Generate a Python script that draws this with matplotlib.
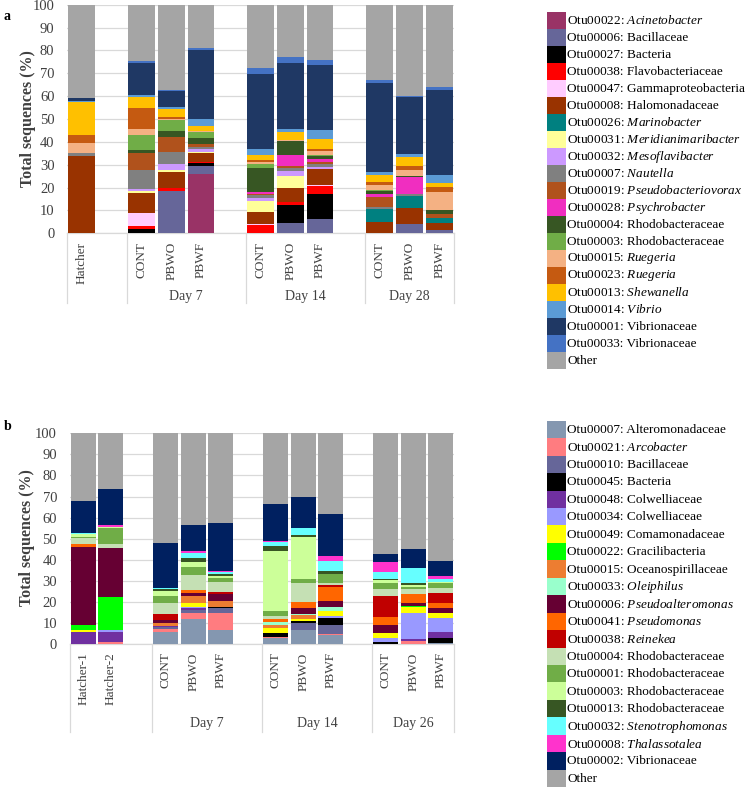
import numpy as np
import matplotlib
matplotlib.use('Agg')
import matplotlib.pyplot as plt
import matplotlib.transforms as mtransforms
from matplotlib.patches import Rectangle

plt.rcParams['font.family'] = ['Liberation Serif', 'DejaVu Serif']
plt.rcParams['mathtext.fontset'] = 'custom'
plt.rcParams['mathtext.rm'] = 'Liberation Serif'
plt.rcParams['mathtext.it'] = 'Liberation Serif:italic'

# ---------------- panel a ----------------
a_groups = ["", "Day 7", "Day 14", "Day 28"]
a_samples = [["Hatcher"], ["CONT", "PBWO", "PBWF"], ["CONT", "PBWO", "PBWF"], ["CONT", "PBWO", "PBWF"]]
a_otus = ["Otu00022", "Otu00006", "Otu00027", "Otu00038", "Otu00047", "Otu00008", "Otu00026",
          "Otu00031", "Otu00032", "Otu00007", "Otu00019", "Otu00028", "Otu00004", "Otu00003",
          "Otu00015", "Otu00023", "Otu00013", "Otu00014", "Otu00001", "Otu00033", ""]
a_taxa = ["Acinetobacter", "Bacillaceae", "Bacteria", "Flavobacteriaceae", "Gammaproteobacteria",
          "Halomonadaceae", "Marinobacter", "Meridianimaribacter", "Mesoflavibacter", "Nautella",
          "Pseudobacteriovorax", "Psychrobacter", "Rhodobacteraceae", "Rhodobacteraceae", "Ruegeria",
          "Ruegeria", "Shewanella", "Vibrio", "Vibrionaceae", "Vibrionaceae", "Other"]
a_italic = [1, 0, 0, 0, 0, 0, 1, 1, 1, 1, 1, 1, 0, 0, 1, 1, 1, 1, 0, 0, 0]
a_colors = ["#993366", "#666699", "#000000", "#FF0000", "#FFCCFF", "#993300", "#008080",
            "#FFFF99", "#CC99FF", "#808080", "#B0521C", "#F02EC0", "#375623", "#70AD47",
            "#F4B183", "#C55A11", "#FFC000", "#5B9BD5", "#1F3864", "#4472C4", "#A5A5A5"]
# rows = taxa, columns = Hatcher, CONT7, PBWO7, PBWF7, CONT14, PBWO14, PBWF14, CONT28, PBWO28, PBWF28
a_values = [
    [0, 0, 0, 25.8, 0, 0, 0, 0, 0, 0],
    [0, 0, 18.7, 3.8, 0, 4.4, 6.3, 0, 4.1, 1.5],
    [0, 2, 0, 1, 0, 8, 10.9, 0, 0, 0],
    [0, 1.2, 1, 0.7, 3.5, 1.3, 3.5, 0, 0, 0],
    [0, 5.5, 0, 0, 0.5, 0, 0.4, 0, 0, 0],
    [34, 9, 7, 3.7, 5.5, 6, 7, 5, 6.8, 2.9],
    [0, 0, 0, 0, 0, 0, 0, 5.5, 5.4, 2.2],
    [0, 0.8, 1, 0.6, 4.5, 5.4, 0, 0, 0, 0],
    [0, 1, 2.6, 1.1, 1.5, 2, 1, 0, 0, 0],
    [1, 8, 5.1, 1.2, 1.2, 1.5, 1, 1.2, 0.9, 0],
    [0, 7.5, 6.7, 1, 0.5, 0.7, 1.2, 4.3, 0, 1.7],
    [0, 0, 0, 0, 0.7, 4.8, 1.2, 1.2, 7.3, 0],
    [0, 1.5, 2.8, 2.9, 10.8, 6.1, 1.1, 1.2, 0.6, 1.8],
    [0, 6.5, 4.7, 2.4, 1.5, 0.3, 0.6, 0.6, 0, 0],
    [4.5, 2.5, 0.6, 0.7, 0.9, 0.5, 2, 2, 2.6, 8.1],
    [3.5, 9.5, 0.8, 0, 0.9, 0, 0.8, 1.6, 1.9, 1.9],
    [14.5, 4.5, 3.2, 2, 2.3, 3.5, 4.2, 2.9, 3.9, 1.8],
    [0.5, 1, 0.9, 3, 2.6, 1.2, 4.2, 1.2, 1.2, 3.6],
    [1, 14, 7.3, 30.3, 33, 28.9, 28.4, 38.9, 25.1, 37.2],
    [0, 1, 0.5, 0.8, 2.6, 2.6, 1.8, 1.4, 0.4, 1.2],
    [41, 24.5, 37.1, 19, 27.5, 22.8, 24.4, 33, 39.8, 36.1],
]

# ---------------- panel b ----------------
b_groups = ["", "Day 7", "Day 14", "Day 26"]
b_samples = [["Hatcher-1", "Hatcher-2"], ["CONT", "PBWO", "PBWF"], ["CONT", "PBWO", "PBWF"], ["CONT", "PBWO", "PBWF"]]
b_otus = ["Otu00007", "Otu00021", "Otu00010", "Otu00045", "Otu00048", "Otu00034", "Otu00049",
          "Otu00022", "Otu00015", "Otu00033", "Otu00006", "Otu00041", "Otu00038", "Otu00004",
          "Otu00001", "Otu00003", "Otu00013", "Otu00032", "Otu00008", "Otu00002", ""]
b_taxa = ["Alteromonadaceae", "Arcobacter", "Bacillaceae", "Bacteria", "Colwelliaceae", "Colwelliaceae",
          "Comamonadaceae", "Gracilibacteria", "Oceanospirillaceae", "Oleiphilus", "Pseudoalteromonas",
          "Pseudomonas", "Reinekea", "Rhodobacteraceae", "Rhodobacteraceae", "Rhodobacteraceae",
          "Rhodobacteraceae", "Stenotrophomonas", "Thalassotalea", "Vibrionaceae", "Other"]
b_italic = [0, 1, 0, 0, 0, 0, 0, 0, 0, 1, 1, 1, 1, 0, 0, 0, 0, 1, 1, 0, 0]
b_colors = ["#8497B0", "#FF7C80", "#666699", "#000000", "#7030A0", "#9999FF", "#FFFF00",
            "#00FF00", "#ED7D31", "#99FFCC", "#660033", "#FF6600", "#C00000", "#C5E0B4",
            "#70AD47", "#CCFF99", "#375623", "#66FFFF", "#FF33CC", "#002060", "#A5A5A5"]
# rows = taxa, columns = H1, H2, CONT7, PBWO7, PBWF7, CONT14, PBWO14, PBWF14, CONT26, PBWO26, PBWF26
b_values = [
    [0, 0, 5.5, 11.7, 6.6, 2.7, 6.6, 4.3, 0, 0, 0.6],
    [0, 0.8, 1.6, 2.9, 8, 0.8, 0, 0.4, 0, 1.6, 0],
    [0, 0, 0.8, 1.5, 2.3, 0, 3.2, 4.3, 0, 0, 0],
    [0, 0, 0, 0, 0.8, 1.6, 1, 3.2, 1.1, 0, 2.1],
    [5.8, 4.7, 0.6, 0.8, 0, 0, 0, 0, 0, 0.6, 3.2],
    [0, 1.1, 0, 0.8, 0, 0, 0, 1.1, 1.6, 12.4, 6.6],
    [0.8, 0, 0, 1.6, 0, 2.3, 0.9, 2.5, 2.7, 2.8, 2.1],
    [2.4, 15.6, 0, 0, 0, 0, 0, 0, 0, 0.6, 0],
    [0, 0, 1.3, 3.5, 2.9, 1.6, 1.9, 0, 0, 0, 0],
    [0, 0, 0, 0, 0, 1.3, 0.6, 1.9, 0, 0, 0],
    [37.2, 23.2, 1.6, 1.6, 3.1, 0, 2.7, 2.9, 3.6, 1.3, 2.3],
    [1.3, 0, 0, 1.2, 0, 1.4, 2.9, 6.3, 3.7, 4.4, 2.4],
    [0, 0, 2.8, 0, 1, 0, 0, 0.9, 10.2, 0, 5.1],
    [2.7, 2.1, 5.1, 7.2, 4.9, 1.6, 9, 1.3, 3, 2.4, 2],
    [0.8, 7.5, 3.6, 3.9, 1.6, 2.5, 1.9, 4.1, 2.9, 1.1, 2.4],
    [1.2, 0.7, 2.1, 2.4, 1.1, 28.5, 19.9, 0, 1.6, 0.8, 0.8],
    [0, 0, 1.1, 1.6, 0.9, 2.2, 1.1, 1.3, 0.5, 0.8, 0],
    [0.6, 0, 0.3, 2.7, 1, 2.1, 3.5, 5.1, 3.4, 7.1, 1.3],
    [0, 0.8, 0, 0.9, 0.4, 0.4, 0, 2.3, 4.8, 0.3, 1.6],
    [15.2, 16.9, 21.4, 12.2, 22.7, 17.5, 14.7, 19.8, 3.5, 8.7, 7],
    [32, 26.6, 52.2, 43.5, 42.7, 33.5, 30.1, 38.3, 57.4, 55.1, 60.5],
]

W, H = 748, 788
GRID = '#D9D9D9'
TXT = '#404040'


def px_axes(fig, left, top, right, bottom):
    return fig.add_axes([left / W, 1 - bottom / H, (right - left) / W, (bottom - top) / H])


def draw_panel(ax, groups, samples, values, colors, sep_len, group_y):
    x, labels, seps, centers = [], [], [-0.5], []
    pos = 0
    for gi, names in enumerate(samples):
        start = pos
        for s in names:
            x.append(pos)
            labels.append(s)
            pos += 1
        if gi < len(samples) - 1:
            pos += 1  # blank category between groups
        seps.append(pos - 0.5)
        centers.append((start + pos - 1) / 2)
    vals = np.array(values, dtype=float)
    bottom = np.zeros(vals.shape[1])
    for row, c in zip(vals, colors):
        ax.bar(x, row, 0.9, bottom=bottom, color=c, linewidth=0, zorder=3)
        bottom += row
    ax.set_xlim(-0.5, pos - 0.5)
    ax.set_ylim(0, 100)
    ax.set_yticks(range(0, 101, 10))
    ax.yaxis.grid(True, color=GRID, linewidth=0.9, zorder=0)
    ax.set_axisbelow(True)
    for sp in ['top', 'right', 'left']:
        ax.spines[sp].set_visible(False)
    ax.spines['bottom'].set_color(GRID)
    ax.spines['bottom'].set_linewidth(0.9)
    ax.set_xticks(x)
    ax.set_xticklabels(labels, rotation=90, fontsize=9.5, color=TXT, va='top')
    ax.tick_params(axis='x', length=0, pad=6)
    ax.tick_params(axis='y', length=0, pad=9, labelsize=10.5, labelcolor=TXT)
    trans = mtransforms.blended_transform_factory(ax.transData, ax.transAxes)
    for s in seps:
        ax.plot([s, s], [0, -sep_len], transform=trans, color=GRID, linewidth=0.9, clip_on=False)
    for g, cx in zip(groups, centers):
        ax.text(cx, group_y, g, transform=trans, ha='center', va='center', fontsize=10, color=TXT)


def legend_label(otu, name, it):
    if otu == "":
        return name
    if it:
        return otu + ": $\\mathit{" + name + "}$"
    return otu + ": " + name


fig = plt.figure(figsize=(W / 100, H / 100), dpi=100)

ax_a = px_axes(fig, 67, 4.7, 454, 233.3)
draw_panel(ax_a, a_groups, a_samples, a_values, a_colors, 70 / 228.6, -63 / 228.6)

ax_b = px_axes(fig, 69.5, 433.3, 454.5, 644)
draw_panel(ax_b, b_groups, b_samples, b_values, b_colors, 88 / 210.7, -79 / 210.7)

for ax in (ax_a, ax_b):
    pass

fig.text(27.5 / W, 1 - 119 / H, "Total sequences (%)", rotation=90, ha='center', va='center',
         fontsize=11.5, fontweight='bold', color=TXT)
fig.text(27 / W, 1 - 538 / H, "Total sequences (%)", rotation=90, ha='center', va='center',
         fontsize=11.5, fontweight='bold', color=TXT)
fig.text(4 / W, 1 - 16 / H, "a", fontsize=10, fontweight='bold', va='center')
fig.text(4 / W, 1 - 426 / H, "b", fontsize=10, fontweight='bold', va='center')

# legends drawn in pixel space
lax = fig.add_axes([0, 0, 1, 1])
lax.set_xlim(0, W)
lax.set_ylim(H, 0)
lax.axis('off')
for otus, taxa, ital, cols, top, rh in [(a_otus, a_taxa, a_italic, a_colors, 11.7, 17.0),
                                        (b_otus, b_taxa, b_italic, b_colors, 420.7, 17.45)]:
    for i, (o, t, it, c) in enumerate(zip(otus, taxa, ital, cols)):
        y = top + i * rh
        lax.add_patch(Rectangle((547, y), 19.5, rh, facecolor=c, edgecolor='none'))
        lax.text(567.5, y + rh / 2 + 0.5, legend_label(o, t, it), fontsize=9.5, va='center', ha='left')

fig.savefig('out.png', dpi=100)
